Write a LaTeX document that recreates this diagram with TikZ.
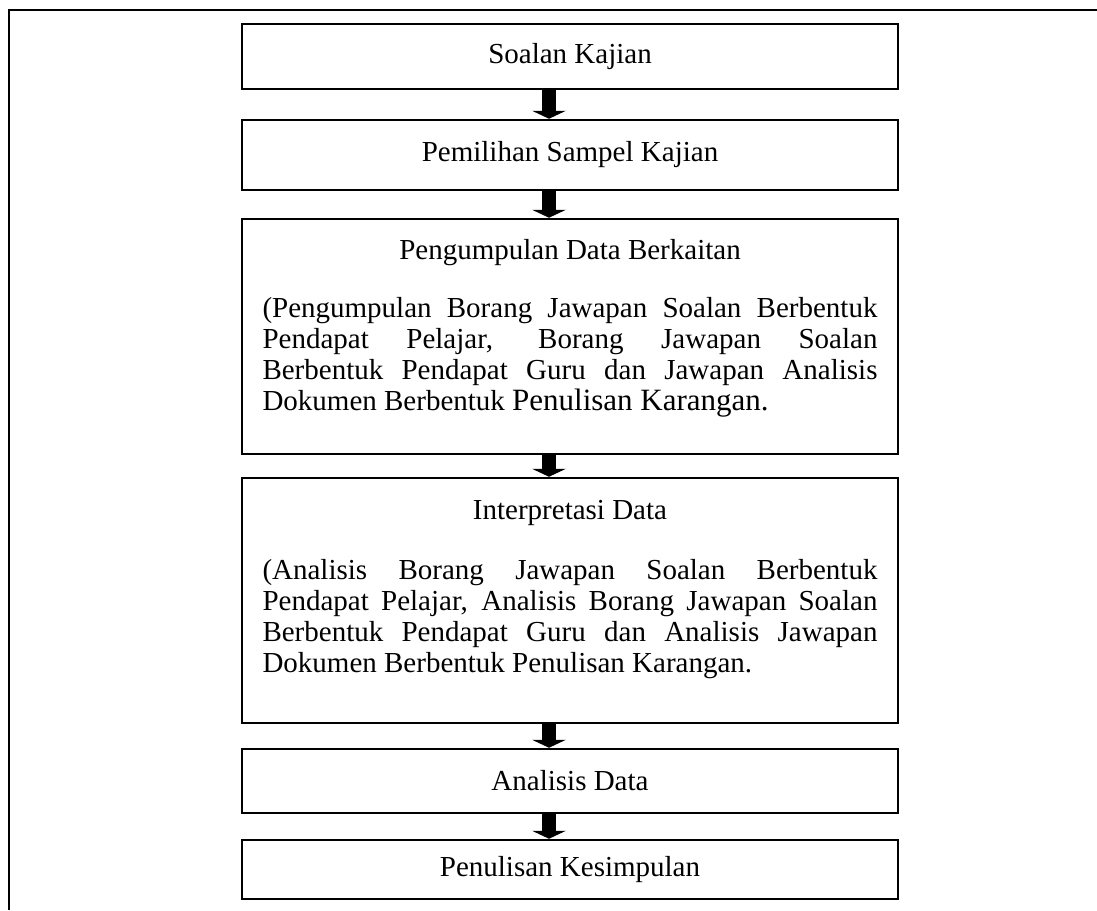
\documentclass[tikz,border=0pt]{standalone}
\usepackage{fontspec}
\setmainfont{Liberation Serif}
\usetikzlibrary{arrows.meta}

\begin{document}
\begin{tikzpicture}[x=1pt,y=-1pt]
        \useasboundingbox (0,0) rectangle (1097,910);
        % frame
        \draw [line width=2pt] (1097,10) -- (9,10) -- (9,910);
        \begin{scope}[
            >={Triangle[width=34pt,length=8pt,line width=0pt]},
            box/.style={draw,line width=2.5pt,minimum width=656pt,inner sep=0pt,
                align=center,font=\fontsize{29}{31}\selectfont},
            every edge/.style={draw=black,line width=14pt}
            ]
            \node [box,minimum height=65pt] (soalan) at (570,56.5) {Soalan Kajian};
            \node [box,minimum height=70pt] (sampel) at (570,155) {Pemilihan Sampel Kajian};
            \node [box] (kumpul) at (570,336.5) {\parbox[c][235pt][t]{615pt}{%
                {\centering\rule{0pt}{40pt}Pengumpulan Data Berkaitan\par}
                \vspace{27pt}
                (Pengumpulan Borang Jawapan Soalan Berbentuk\linebreak
                Pendapat Pelajar, Borang Jawapan Soalan\linebreak
                Berbentuk Pendapat Guru dan Jawapan Analisis\linebreak
                Dokumen Berbentuk {\fontsize{31}{31}\selectfont Penulisan Karangan.}}};
            \node [box] (tafsir) at (570,600.5) {\parbox[c][245pt][t]{615pt}{%
                {\centering\rule{0pt}{41pt}Interpretasi Data\par}
                \vspace{29pt}
                (Analisis Borang Jawapan Soalan Berbentuk\linebreak
                Pendapat Pelajar, Analisis Borang Jawapan Soalan\linebreak
                Berbentuk Pendapat Guru dan Analisis Jawapan\linebreak
                Dokumen Berbentuk Penulisan Karangan.}};
            \node [box,minimum height=64pt] (analisis) at (570,781) {Analisis Data};
            \node [box,minimum height=59pt] (simpul) at (570,869.5) {Penulisan Kesimpulan};
            \path [->] ([xshift=-21pt]soalan.south) edge ([xshift=-21pt]sampel.north);
            \path [->] ([xshift=-21pt]sampel.south) edge ([xshift=-21pt]kumpul.north);
            \path [->] ([xshift=-21pt]kumpul.south) edge ([xshift=-21pt]tafsir.north);
            \path [->] ([xshift=-21pt]tafsir.south) edge ([xshift=-21pt]analisis.north);
            \path [->] ([xshift=-21pt]analisis.south) edge ([xshift=-21pt]simpul.north);
        \end{scope}
    \end{tikzpicture}
\end{document}
